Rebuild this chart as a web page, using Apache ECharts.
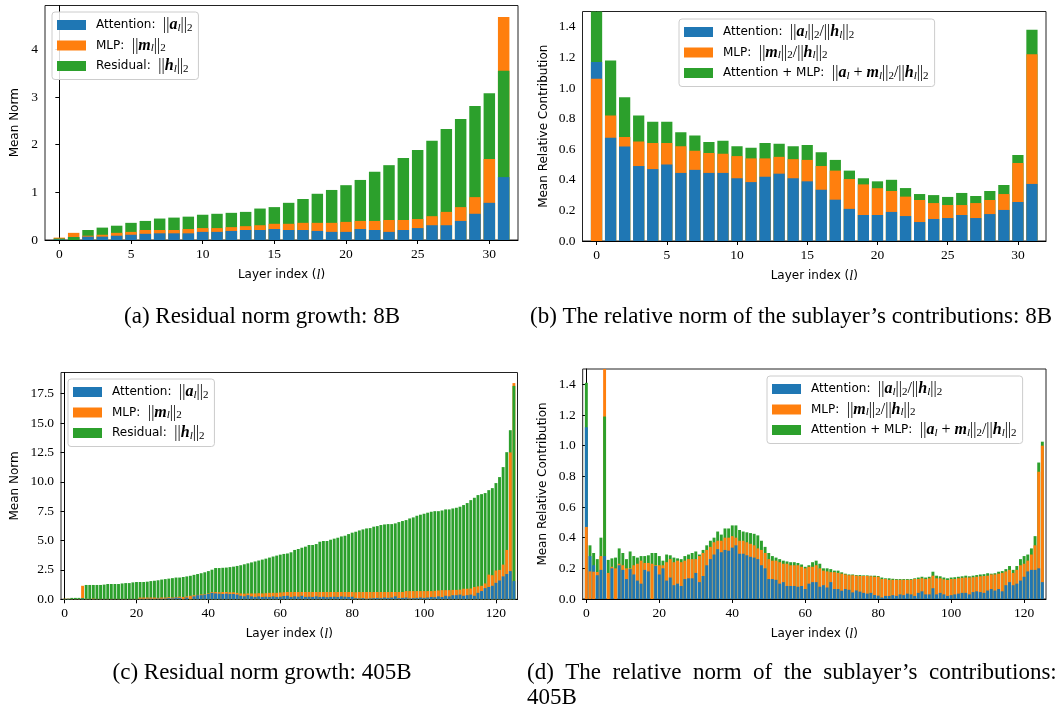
<!DOCTYPE html>
<html>
<head>
<meta charset="utf-8">
<script src="https://cdn.jsdelivr.net/npm/echarts@6/dist/echarts.min.js"></script>
<style>
  html, body { margin: 0; padding: 0; background: #fff; }
  #chart { width: 1060px; height: 710px; }
</style>
</head>
<body>
<div id="chart"></div>
<script>
// ---- data: 8B model (32 layers) ----
const attn8B = [0.01, 0.06, 0.07, 0.07, 0.09, 0.11, 0.13, 0.14, 0.14, 0.14, 0.17, 0.17, 0.19, 0.21, 0.21, 0.23,
  0.21, 0.21, 0.19, 0.17, 0.17, 0.23, 0.21, 0.17, 0.21, 0.25, 0.31, 0.31, 0.40, 0.55, 0.78, 1.32]
const mlp8B = [0.05, 0.15, 0.09, 0.11, 0.15, 0.17, 0.21, 0.21, 0.21, 0.23, 0.25, 0.25, 0.27, 0.29, 0.31, 0.34,
  0.34, 0.36, 0.36, 0.36, 0.38, 0.40, 0.40, 0.42, 0.42, 0.44, 0.50, 0.59, 0.69, 0.90, 1.70, 4.68]
const resid8B = [0.03, 0.06, 0.21, 0.26, 0.30, 0.36, 0.40, 0.45, 0.47, 0.49, 0.53, 0.55, 0.57, 0.59, 0.66, 0.69,
  0.78, 0.86, 0.97, 1.05, 1.15, 1.26, 1.43, 1.57, 1.72, 1.89, 2.08, 2.33, 2.54, 2.81, 3.08, 3.55]

const attnRel8B = [1.17, 0.675, 0.617, 0.49, 0.47, 0.50, 0.445, 0.465, 0.445, 0.445, 0.41, 0.385, 0.42, 0.44, 0.41, 0.39,
  0.335, 0.27, 0.21, 0.17, 0.17, 0.19, 0.163, 0.124, 0.144, 0.15, 0.17, 0.15, 0.176, 0.203, 0.255, 0.373]
const mlpRel8B = [1.06, 0.82, 0.68, 0.65, 0.64, 0.64, 0.62, 0.59, 0.575, 0.57, 0.555, 0.54, 0.54, 0.55, 0.535, 0.53,
  0.49, 0.46, 0.405, 0.37, 0.345, 0.327, 0.29, 0.268, 0.248, 0.235, 0.235, 0.248, 0.268, 0.307, 0.51, 1.22]
const sumRel8B = [1.62, 1.18, 0.94, 0.82, 0.78, 0.78, 0.71, 0.69, 0.647, 0.655, 0.62, 0.61, 0.64, 0.635, 0.62, 0.627,
  0.58, 0.53, 0.46, 0.41, 0.39, 0.40, 0.346, 0.307, 0.30, 0.288, 0.314, 0.294, 0.327, 0.366, 0.562, 1.38]

// ---- data: 405B model (126 layers) ----
const attn405B = [
  0.02, 0.03, 0.02, 0.02, 0.02, 0.05, 0.02, 0.02, 0.02, 0.02,
  0.02, 0.02, 0.02, 0.02, 0.02, 0.02, 0.02, 0.02, 0.02, 0.02,
  0.02, 0.04, 0.04, 0.05, 0.05, 0.04, 0.06, 0.05, 0.06, 0.10,
  0.08, 0.15, 0.12, 0.20, 0.15, 0.30, 0.25, 0.35, 0.35, 0.40,
  0.45, 0.55, 0.50, 0.48, 0.45, 0.48, 0.45, 0.45, 0.40, 0.30,
  0.25, 0.35, 0.25, 0.20, 0.25, 0.20, 0.22, 0.20, 0.25, 0.20,
  0.22, 0.28, 0.30, 0.20, 0.25, 0.22, 0.30, 0.20, 0.22, 0.20,
  0.25, 0.20, 0.22, 0.18, 0.20, 0.22, 0.20, 0.25, 0.22, 0.20,
  0.22, 0.10, 0.08, 0.10, 0.05, 0.08, 0.10, 0.12, 0.10, 0.15,
  0.12, 0.15, 0.25, 0.10, 0.12, 0.15, 0.08, 0.10, 0.12, 0.15,
  0.12, 0.15, 0.20, 0.18, 0.25, 0.20, 0.30, 0.25, 0.35, 0.35,
  0.40, 0.30, 0.35, 0.40, 0.30, 0.55, 0.70, 0.95, 1.05, 1.15,
  1.40, 1.60, 1.95, 2.15, 2.40, 1.55]
const mlp405B = [
  0.05, 0.05, 0.02, 0.02, 0.03, 1.15, 0.04, 0.02, 0.06, 0.03,
  0.03, 0.03, 0.03, 0.03, 0.03, 0.03, 0.03, 0.03, 0.03, 0.03,
  0.03, 0.15, 0.15, 0.15, 0.15, 0.15, 0.12, 0.15, 0.15, 0.18,
  0.15, 0.20, 0.22, 0.20, 0.25, 0.30, 0.35, 0.38, 0.42, 0.45,
  0.50, 0.62, 0.62, 0.60, 0.62, 0.62, 0.60, 0.60, 0.55, 0.50,
  0.48, 0.50, 0.50, 0.50, 0.52, 0.50, 0.52, 0.55, 0.55, 0.55,
  0.58, 0.60, 0.62, 0.62, 0.62, 0.62, 0.62, 0.62, 0.62, 0.62,
  0.62, 0.62, 0.62, 0.62, 0.62, 0.62, 0.62, 0.62, 0.62, 0.62,
  0.62, 0.60, 0.62, 0.62, 0.62, 0.62, 0.62, 0.62, 0.62, 0.62,
  0.62, 0.62, 0.62, 0.62, 0.62, 0.70, 0.70, 0.70, 0.70, 0.70,
  0.70, 0.70, 0.70, 0.72, 0.75, 0.78, 0.78, 0.78, 0.80, 0.80,
  0.82, 0.90, 0.90, 0.92, 1.05, 1.10, 1.15, 1.35, 2.10, 2.05,
  2.45, 2.50, 2.95, 4.20, 12.50, 18.40]
const resid405B = [
  0.04, 0.05, 0.12, 0.12, 0.12, 0.10, 1.22, 1.22, 1.22, 1.22,
  1.22, 1.25, 1.30, 1.30, 1.30, 1.30, 1.35, 1.38, 1.38, 1.44,
  1.47, 1.47, 1.47, 1.50, 1.55, 1.58, 1.62, 1.68, 1.72, 1.76,
  1.80, 1.85, 1.85, 1.90, 1.95, 2.00, 2.08, 2.15, 2.22, 2.30,
  2.40, 2.52, 2.66, 2.66, 2.68, 2.70, 2.74, 2.78, 2.84, 2.90,
  2.98, 3.06, 3.14, 3.22, 3.30, 3.38, 3.46, 3.55, 3.64, 3.72,
  3.80, 3.86, 3.90, 4.00, 4.20, 4.28, 4.39, 4.48, 4.62, 4.62,
  4.70, 4.90, 4.96, 4.96, 5.07, 5.16, 5.24, 5.35, 5.41, 5.55,
  5.67, 5.75, 5.86, 5.95, 6.03, 6.06, 6.18, 6.23, 6.32, 6.37,
  6.40, 6.40, 6.46, 6.57, 6.66, 6.74, 6.88, 6.97, 7.11, 7.20,
  7.28, 7.37, 7.45, 7.50, 7.50, 7.56, 7.65, 7.65, 7.73, 7.79,
  7.88, 8.02, 8.19, 8.44, 8.64, 8.87, 8.95, 9.04, 9.29, 9.46,
  9.89, 10.40, 11.25, 12.52, 14.39, 18.16]

const attnRel405B = [
  1.12, 0.28, 0.22, 0.155, 0.19, 0.28, 0.0, 0.20, 0.0, 0.22,
  0.19, 0.13, 0.195, 0.16, 0.12, 0.10, 0.19, 0.18, 0.0, 0.215,
  0.16, 0.20, 0.12, 0.14, 0.09, 0.10, 0.085, 0.13, 0.135, 0.135,
  0.17, 0.11, 0.15, 0.22, 0.26, 0.29, 0.325, 0.305, 0.32, 0.315,
  0.335, 0.35, 0.295, 0.295, 0.285, 0.275, 0.27, 0.26, 0.22, 0.20,
  0.13, 0.13, 0.125, 0.10, 0.11, 0.085, 0.085, 0.085, 0.08, 0.085,
  0.065, 0.10, 0.11, 0.11, 0.08, 0.09, 0.075, 0.11, 0.065, 0.065,
  0.054, 0.065, 0.06, 0.043, 0.056, 0.048, 0.04, 0.035, 0.04, 0.026,
  0.022, 0.01, 0.02, 0.02, 0.025, 0.02, 0.03, 0.025, 0.035, 0.03,
  0.02, 0.04, 0.05, 0.03, 0.03, 0.07, 0.03, 0.04, 0.03, 0.02,
  0.025, 0.03, 0.035, 0.04, 0.04, 0.03, 0.045, 0.05, 0.045, 0.04,
  0.055, 0.065, 0.055, 0.065, 0.05, 0.09, 0.11, 0.09, 0.10, 0.12,
  0.145, 0.18, 0.19, 0.19, 0.20, 0.11]
const mlpRel405B = [
  0.47, 0.18, 0.178, 0.176, 0.28, 1.65, 0.17, 0.21, 0.20, 0.23,
  0.22, 0.20, 0.20, 0.22, 0.23, 0.25, 0.235, 0.235, 0.23, 0.22,
  0.22, 0.22, 0.24, 0.26, 0.24, 0.25, 0.24, 0.25, 0.26, 0.26,
  0.26, 0.28, 0.30, 0.32, 0.34, 0.37, 0.38, 0.38, 0.40, 0.40,
  0.41, 0.40, 0.38, 0.38, 0.37, 0.36, 0.35, 0.33, 0.32, 0.30,
  0.26, 0.25, 0.25, 0.24, 0.23, 0.23, 0.22, 0.22, 0.22, 0.21,
  0.20, 0.21, 0.21, 0.22, 0.20, 0.185, 0.18, 0.175, 0.175, 0.17,
  0.165, 0.16, 0.155, 0.155, 0.152, 0.15, 0.15, 0.15, 0.148, 0.145,
  0.145, 0.13, 0.13, 0.125, 0.125, 0.125, 0.125, 0.125, 0.125, 0.125,
  0.13, 0.13, 0.135, 0.13, 0.135, 0.152, 0.135, 0.135, 0.128, 0.124,
  0.13, 0.13, 0.135, 0.138, 0.14, 0.14, 0.142, 0.145, 0.148, 0.15,
  0.152, 0.16, 0.16, 0.165, 0.17, 0.18, 0.19, 0.17, 0.19, 0.22,
  0.23, 0.25, 0.29, 0.35, 0.83, 1.00]
const sumRel405B = [
  1.41, 0.35, 0.30, 0.26, 0.40, 1.19, 0.255, 0.265, 0.27, 0.33,
  0.30, 0.26, 0.31, 0.28, 0.27, 0.28, 0.28, 0.285, 0.30, 0.30,
  0.28, 0.25, 0.29, 0.285, 0.27, 0.265, 0.26, 0.28, 0.29, 0.30,
  0.31, 0.29, 0.32, 0.35, 0.38, 0.40, 0.44, 0.42, 0.46, 0.46,
  0.48, 0.48, 0.45, 0.44, 0.435, 0.43, 0.425, 0.415, 0.38, 0.34,
  0.30, 0.28, 0.27, 0.26, 0.25, 0.245, 0.24, 0.24, 0.235, 0.225,
  0.21, 0.22, 0.24, 0.25, 0.23, 0.20, 0.20, 0.195, 0.185, 0.185,
  0.174, 0.165, 0.16, 0.16, 0.156, 0.156, 0.154, 0.154, 0.152, 0.152,
  0.15, 0.14, 0.135, 0.135, 0.132, 0.13, 0.13, 0.13, 0.13, 0.13,
  0.135, 0.14, 0.145, 0.14, 0.145, 0.178, 0.152, 0.148, 0.14, 0.135,
  0.14, 0.142, 0.145, 0.148, 0.152, 0.148, 0.152, 0.156, 0.16, 0.162,
  0.168, 0.165, 0.168, 0.178, 0.182, 0.195, 0.215, 0.19, 0.215, 0.26,
  0.28, 0.29, 0.33, 0.41, 0.89, 1.026]

// ---- tick labels ----
const xTicks8B = [0, 5, 10, 15, 20, 25, 30]
const xTicks405B = [0, 20, 40, 60, 80, 100, 120]
const yTicksNorm8B = [0, 1, 2, 3, 4]
const yTicksNorm405B = [0, 2.5, 5, 7.5, 10, 12.5, 15, 17.5]
const yTicksRel = [0, 0.2, 0.4, 0.6, 0.8, 1.0, 1.2, 1.4]

const captions = {
    a: '(a) Residual norm growth: 8B',
    b: '(b) The relative norm of the sublayer\u2019s contributions: 8B',
    c: '(c) Residual norm growth: 405B',
    d1: '(d)  The  relative  norm  of  the  sublayer\u2019s  contributions:',
    d2: '405B'
}

const COLORS = ['#1f77b4', '#ff7f0e', '#2ca02c']
const SERIF = '"Liberation Serif", "DejaVu Serif", serif'
const SANS = '"DejaVu Sans", sans-serif'

const normNames = ['attnNorm', 'mlpNorm', 'residNorm']
const relNames = ['attnRel', 'mlpRel', 'sumRel']

// legend labels with the little bit of math
const legendText = {
    attnNorm: '{t|Attention:  }{m|||}{bi|a}{si|l}{m|||}{s|2}',
    mlpNorm: '{t|MLP:  }{m|||}{bi|m}{si|l}{m|||}{s|2}',
    residNorm: '{t|Residual:  }{m|||}{bi|h}{si|l}{m|||}{s|2}',
    attnRel: '{t|Attention:  }{m|||}{bi|a}{si|l}{m|||}{s|2}{m|/||}{bi|h}{si|l}{m|||}{s|2}',
    mlpRel: '{t|MLP:  }{m|||}{bi|m}{si|l}{m|||}{s|2}{m|/||}{bi|h}{si|l}{m|||}{s|2}',
    sumRel: '{t|Attention + MLP:  }{m|||}{bi|a}{si|l}{m| + }{bi|m}{si|l}{m|||}{s|2}{m|/||}{bi|h}{si|l}{m|||}{s|2}'
}

const legendRich = {
    t: { fontFamily: SANS, fontSize: 12, lineHeight: 17, padding: [0, 0, 0, 5], color: '#000' },
    m: { fontFamily: SERIF, fontSize: 16, lineHeight: 17, color: '#000' },
    bi: { fontFamily: SERIF, fontSize: 16, fontWeight: 'bold', fontStyle: 'italic', lineHeight: 17, color: '#000' },
    si: { fontFamily: SERIF, fontSize: 11, fontStyle: 'italic', lineHeight: 10, verticalAlign: 'bottom', color: '#000' },
    s: { fontFamily: SERIF, fontSize: 11, lineHeight: 10, verticalAlign: 'bottom', color: '#000' }
}

// panel geometry (px)
const panels = [
    { left: 45, top: 5.5, width: 473, height: 234.5, xMin: -1, xMax: 32, yMax: 4.92,
      xTicks: xTicks8B, yTicks: yTicksNorm8B, yFmt: v => String(v), yName: 'Mean Norm', yGap: 24,
      cols: [attn8B, mlp8B, resid8B], names: normNames, legend: { left: 52, top: 12 } },
    { left: 582.5, top: 11.5, width: 463.5, height: 229.5, xMin: -1, xMax: 32, yMax: 1.5,
      xTicks: xTicks8B, yTicks: yTicksRel, yFmt: v => v.toFixed(1), yName: 'Mean Relative Contribution', yGap: 33,
      cols: [attnRel8B, mlpRel8B, sumRel8B], names: relNames, legend: { left: 679, top: 19 } },
    { left: 61, top: 372.5, width: 456.5, height: 226.8, xMin: -1, xMax: 126, yMax: 19.3,
      xTicks: xTicks405B, yTicks: yTicksNorm405B, yFmt: v => v.toFixed(1), yName: 'Mean Norm', yGap: 40,
      cols: [attn405B, mlp405B, resid405B], names: normNames, legend: { left: 68, top: 379 } },
    { left: 582.7, top: 369, width: 463.3, height: 230, xMin: -1, xMax: 126, yMax: 1.5,
      xTicks: xTicks405B, yTicks: yTicksRel, yFmt: v => v.toFixed(1), yName: 'Mean Relative Contribution', yGap: 34,
      cols: [attnRel405B, mlpRel405B, sumRel405B], names: relNames, legend: { left: 767, top: 376 } }
]

// matplotlib draws the three bars on top of each other, tallest in the back.
// Series 0 holds the tallest of each layer, series 2 the shortest (drawn last, in front).
const buildSeries = (p, idx) => {
    const n = p.cols[0].length
    const ranks = [[], [], []]
    for (let i = 0; i < n; i++) {
        const items = p.cols.map((arr, k) => ({ v: arr[i], k })).sort((a, b) => b.v - a.v)
        items.forEach((it, j) => {
            ranks[j].push({ value: [i, it.v], itemStyle: { color: COLORS[it.k] } })
        })
    }
    const barW = 0.8 * p.width / (p.xMax - p.xMin)
    return ranks.map((data, j) => ({
        type: 'bar',
        name: p.names[j],
        xAxisIndex: idx,
        yAxisIndex: idx,
        barWidth: barW,
        barGap: '-100%',
        itemStyle: { color: COLORS[j] },
        data,
        silent: true
    }))
}

const axisLineStyle = { color: '#000', width: 1 }

const option = {
    animation: false,
    backgroundColor: '#fff',
    grid: panels.map(p => ({
        left: p.left, top: p.top, width: p.width, height: p.height,
        show: true, borderColor: '#222', borderWidth: 1, backgroundColor: 'transparent'
    })),
    xAxis: panels.map((p, i) => ({
        type: 'value', gridIndex: i, min: p.xMin, max: p.xMax,
        splitLine: { show: false },
        axisLine: { show: true, onZero: false, lineStyle: axisLineStyle },
        axisTick: { show: true, length: 4, lineStyle: axisLineStyle, customValues: p.xTicks },
        axisLabel: { customValues: p.xTicks, fontFamily: SERIF, fontSize: 13.5, color: '#000', margin: 7 },
        name: 'Layer index ({it|l})',
        nameLocation: 'middle',
        nameGap: 28,
        nameTextStyle: {
            fontFamily: SANS, fontSize: 12, color: '#000',
            rich: { it: { fontFamily: SERIF, fontStyle: 'italic', fontSize: 14, color: '#000' } }
        }
    })),
    yAxis: panels.map((p, i) => ({
        type: 'value', gridIndex: i, min: 0, max: p.yMax,
        splitLine: { show: false },
        axisLine: { show: true, lineStyle: axisLineStyle },
        axisTick: { show: true, length: 4, lineStyle: axisLineStyle, customValues: p.yTicks },
        axisLabel: {
            customValues: p.yTicks, formatter: p.yFmt,
            fontFamily: SERIF, fontSize: 13.5, color: '#000', margin: 7
        },
        name: p.yName,
        nameLocation: 'middle',
        nameGap: p.yGap,
        nameTextStyle: { fontFamily: SANS, fontSize: 12, color: '#000' }
    })),
    legend: panels.map(p => ({
        left: p.legend.left, top: p.legend.top,
        orient: 'vertical',
        data: p.names,
        icon: 'rect',
        itemWidth: 29, itemHeight: 10, itemGap: 4,
        padding: [5, 6, 5, 5],
        selectedMode: false,
        backgroundColor: 'rgba(255,255,255,0.85)',
        borderColor: '#cccccc', borderWidth: 1, borderRadius: 3,
        formatter: name => legendText[name],
        textStyle: { rich: legendRich }
    })),
    series: panels.flatMap((p, i) => buildSeries(p, i)),
    graphic: [
        { type: 'text', x: 262, y: 317, style: { text: captions.a, fontFamily: SERIF, fontSize: 23, fill: '#000', align: 'center', verticalAlign: 'middle' } },
        { type: 'text', x: 791, y: 317, style: { text: captions.b, fontFamily: SERIF, fontSize: 23, fill: '#000', align: 'center', verticalAlign: 'middle' } },
        { type: 'text', x: 262, y: 673, style: { text: captions.c, fontFamily: SERIF, fontSize: 23, fill: '#000', align: 'center', verticalAlign: 'middle' } },
        { type: 'text', x: 527, y: 673, style: { text: captions.d1, fontFamily: SERIF, fontSize: 23, fill: '#000', align: 'left', verticalAlign: 'middle' } },
        { type: 'text', x: 527, y: 698, style: { text: captions.d2, fontFamily: SERIF, fontSize: 23, fill: '#000', align: 'left', verticalAlign: 'middle' } }
    ]
}

const chart = echarts.init(document.getElementById('chart'))
chart.setOption(option)
</script>
</body>
</html>
